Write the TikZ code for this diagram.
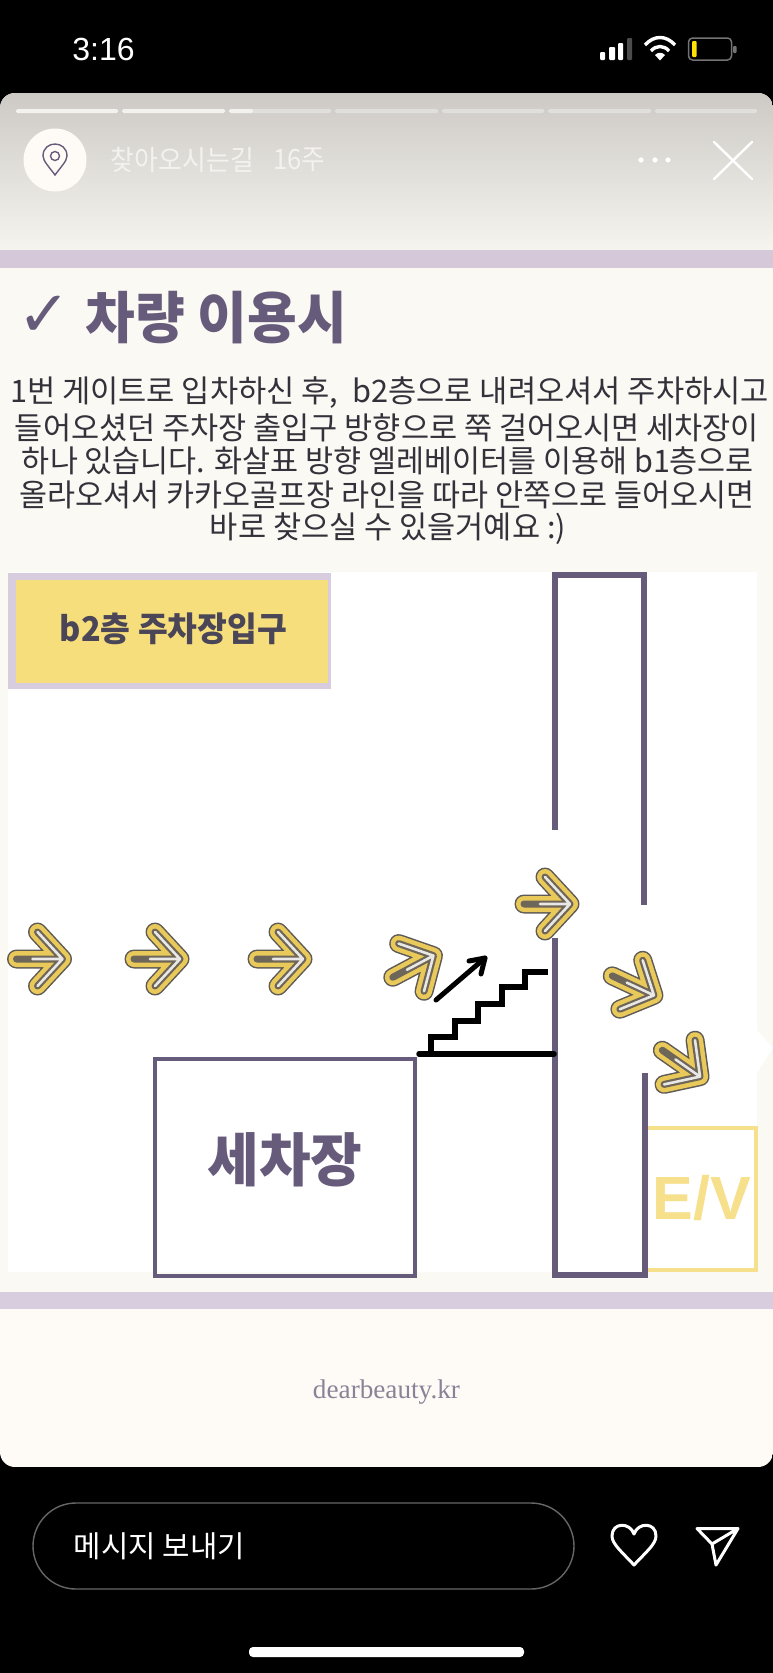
\documentclass[tikz,border=0pt]{standalone}
\usepackage{graphicx}
\usepackage{fontspec}
\setmainfont{Liberation Sans}
\newfontfamily\kr{Noto Sans CJK KR}
\newfontfamily\dejav{DejaVu Sans}
\newfontfamily\ser{Liberation Serif}
\newcommand{\fitw}[2]{\resizebox{#1pt}{\height}{#2}}
\newcommand{\fs}[1]{\fontsize{#1}{#1}\selectfont}
\definecolor{purp}{HTML}{665B7A}
\definecolor{lav}{HTML}{D8CCDF}
\definecolor{lavb}{HTML}{D5C9D9}
\definecolor{cardbg}{HTML}{FBF9F4}
\definecolor{cardlow}{HTML}{FEFBF6}
\definecolor{yel}{HTML}{F7DE7C}
\definecolor{evy}{HTML}{F7E08C}
\definecolor{arrowy}{HTML}{E8C95A}
\definecolor{arrowg}{HTML}{5E5A55}
\definecolor{arrowc}{HTML}{6E6658}
\definecolor{hdr}{HTML}{F4F2EE}
\definecolor{body}{HTML}{33323A}
\definecolor{gradtop}{HTML}{CDCAC6}
\definecolor{gradbot}{HTML}{F6F4EE}
\definecolor{entrytxt}{HTML}{4A4658}
\definecolor{sitetxt}{HTML}{8A8296}
\tikzset{
 txt/.style={inner sep=0pt,outer sep=0pt,anchor=center},
 wall/.style={draw=purp,line width=6pt},
 stair/.style={draw=black,line width=5.5pt},
 progress/.style={fill=white,fill opacity=.35,rounded corners=1.5pt},
 progressdone/.style={fill=hdr,rounded corners=1.5pt},
 yarrow/.pic={
  \draw[arrowg,line width=19pt,line cap=round,line join=round] (-24,0)--(22,0) (-3,-27)--(22,0)--(-3,27);
  \draw[arrowy,line width=16pt,line cap=round,line join=round] (-24,0)--(22,0) (-3,-27)--(22,0)--(-3,27);
  \draw[arrowc,line width=7pt,line cap=round,line join=round] (-24,0)--(22,0) (-3,-27)--(22,0)--(-3,27);
  \draw[white!85!arrowc,line width=2.6pt,line cap=round,line join=round] (-8,0)--(22,0) (-3,-27)--(22,0)--(-3,27);
 }
}
\begin{document}
\begin{tikzpicture}[x=1pt,y=-1pt]
\useasboundingbox (0,0) rectangle (773,1673);
\fill[black] (0,0) rectangle (773,1673);
% card
\begin{scope}
 \clip[rounded corners=15pt] (0,93) rectangle (773,1467);
 \fill[cardbg] (0,93) rectangle (773,1300);
 \fill[cardlow] (0,1300) rectangle (773,1467);
 \shade[top color=gradtop,bottom color=gradbot] (0,93) rectangle (773,250);
 \fill[lavb] (0,250) rectangle (773,268);
 \fill[lav] (0,1292) rectangle (773,1309);
\end{scope}
% status bar
\node[txt,text=white] (clock) at (103.5,49.5) {\fs{32}3:16};
\fill[white,rounded corners=1pt] (600,52) rectangle (605,60);
\fill[white,rounded corners=1pt] (609,47) rectangle (615,60);
\fill[white,rounded corners=1pt] (618,43) rectangle (623,60);
\fill[black!70,rounded corners=1pt] (627,38) rectangle (632,60);
\draw[white,line width=3.4pt] (645,45) .. controls (654,35) and (666,35) .. (675,45);
\draw[white,line width=3.4pt] (651,51) .. controls (656,45) and (664,45) .. (669,51);
\fill[white] (655,55) .. controls (658,52) and (662,52) .. (665,55) -- (660,60.5) -- cycle;
\draw[black!55,line width=1.5pt,rounded corners=4pt] (688.5,38) rectangle (731.5,60);
\fill[yellow!85!orange,rounded corners=1pt] (692,41) rectangle (696.5,57);
\fill[black!55,rounded corners=1pt] (733,46) rectangle (736.5,53);
% progress
\foreach \a/\b in {16/118,122/225}{\fill[progressdone] (\a,109) rectangle (\b,113);}
\foreach \a/\b in {229/331,335/438,442/544,548/651,655/757}{\fill[progress] (\a,109) rectangle (\b,113);}
\fill[progressdone] (229,109) rectangle (253,113);
% header
\fill[cardlow] (55,160) circle[radius=31.5pt];
\draw[purp,line width=1.4pt] (55,175) .. controls (50,168) and (43,161) .. (43,156) .. controls (43,140) and (67,140) .. (67,156) .. controls (67,161) and (60,168) .. (55,175) -- cycle;
\draw[purp,line width=1.4pt] (55,156) circle[radius=4.5pt];
\node[txt,text=hdr] (hname) at (182.5,160) {\fitw{143}{\kr\fs{28}찾아오시는길}};
\node[txt,text=hdr] (hage) at (299,160) {\fitw{52}{\kr\fs{28}16주}};
\foreach \x in {641,655,668}{\fill[white] (\x,160) circle[radius=2.6pt];}
\draw[white,line width=2.4pt,line cap=round] (714,142)--(752,179) (752,142)--(714,179);
% title
\node[txt,text=purp] (chk) at (44,316) {\dejav\fs{64}✓};
\node[txt,text=purp] (title) at (216.5,318) {\fitw{261}{\kr\bfseries\fs{56}차량 이용시}};
% body
\node[txt,text=body] (l1) at (389.5,393) {\fitw{759}{\kr\fs{31}1번 게이트로 입차하신 후,\ \ b2층으로 내려오셔서 주차하시고}};
\node[txt,text=body] (l2) at (387,428) {\fitw{744}{\kr\fs{31}들어오셨던 주차장 출입구 방향으로 쭉 걸어오시면 세차장이}};
\node[txt,text=body] (l3) at (388,461) {\fitw{732}{\kr\fs{31}하나 있습니다. 화살표 방향 엘레베이터를 이용해 b1층으로}};
\node[txt,text=body] (l4) at (387,495) {\fitw{734}{\kr\fs{31}올라오셔서 카카오골프장 라인을 따라 안쪽으로 들어오시면}};
\node[txt,text=body] (l5) at (388,529) {\fitw{356}{\kr\fs{31}바로 찾으실 수 있을거예요 :)}};
% panel
\fill[white] (8,572) rectangle (757,1272);
\fill[white] (757,1030) -- (773,1048) -- (757,1073) -- cycle;
% entry box
\fill[lav] (8,573) rectangle (331,689);
\fill[yel] (16,580) rectangle (328,683);
\node[txt,text=entrytxt] (entry) at (173.5,629) {\fitw{227}{\kr\bfseries\fs{34}b2층 주차장입구}};
% EV
\draw[evy,line width=4pt] (647,1128) -- (756,1128) -- (756,1270) -- (647,1270);
\node[txt,text=evy] (ev) at (702,1198) {\bfseries\fs{61}E/V};
% corridor
\draw[wall] (555,830) -- (555,575) -- (644,575) -- (644,905);
\draw[wall] (555,938) -- (555,1274.5) -- (644.5,1274.5) -- (644.5,1073);
% wash box
\node[draw=purp,line width=4pt,minimum width=260pt,minimum height=217pt,inner sep=0pt,txt] (wash) at (285,1167.5) {};
\node[txt,text=purp] (washt) at (285,1160) {\fitw{155}{\kr\bfseries\fs{58}세차장}};
% stairs
\coordinate (bl) at (419,1054);
\coordinate (br) at (554,1054);
\coordinate (as) at (436,1000);
\coordinate (ae) at (485,958);
\draw[stair,line join=miter] (431,1054) -- (431,1037) -- (455,1037) -- (455,1021) -- (478,1021) -- (478,1004) -- (502,1004) -- (502,987) -- (525,987) -- (525,972) -- (548,972);
\draw[stair,line cap=round] (bl) -- (br);
\draw[line width=5pt,line cap=round] (as) -- (ae);
\draw[line width=5pt,line cap=round,line join=round] (469,961) -- (485,958) -- (481,974);
% arrows
\pic at (40.5,959) {yarrow};
\pic at (158,959) {yarrow};
\pic at (281,959) {yarrow};
\pic[rotate=28] at (414,966) {yarrow};
\pic at (548,904) {yarrow};
\pic[rotate=-25] at (634,986) {yarrow};
\pic[rotate=-35] at (682,1064) {yarrow};
% footer
\node[txt,text=sitetxt] (site) at (386.5,1392) {\fitw{147}{\ser\fs{27}dearbeauty.kr}};
\draw[black!60!white,line width=1.4pt,rounded corners=43pt] (33,1503) rectangle (574,1589);
\node[txt,text=white] (msg) at (159.5,1546) {\fitw{171}{\kr\fs{30}메시지 보내기}};
\draw[white,line width=3pt,line join=round] (634,1565) .. controls (622,1552) and (612,1544) .. (612,1536) .. controls (612,1522) and (630,1522) .. (634,1534) .. controls (638,1522) and (656,1522) .. (656,1536) .. controls (656,1544) and (646,1552) .. (634,1565) -- cycle;
\draw[white,line width=3pt,line join=round] (697,1528.5) -- (738,1528.5) -- (716,1565) -- (712,1544) -- cycle (712,1544) -- (738,1528.5);
\fill[white,rounded corners=4pt] (249,1647) rectangle (524,1657);
\end{tikzpicture}
\end{document}
